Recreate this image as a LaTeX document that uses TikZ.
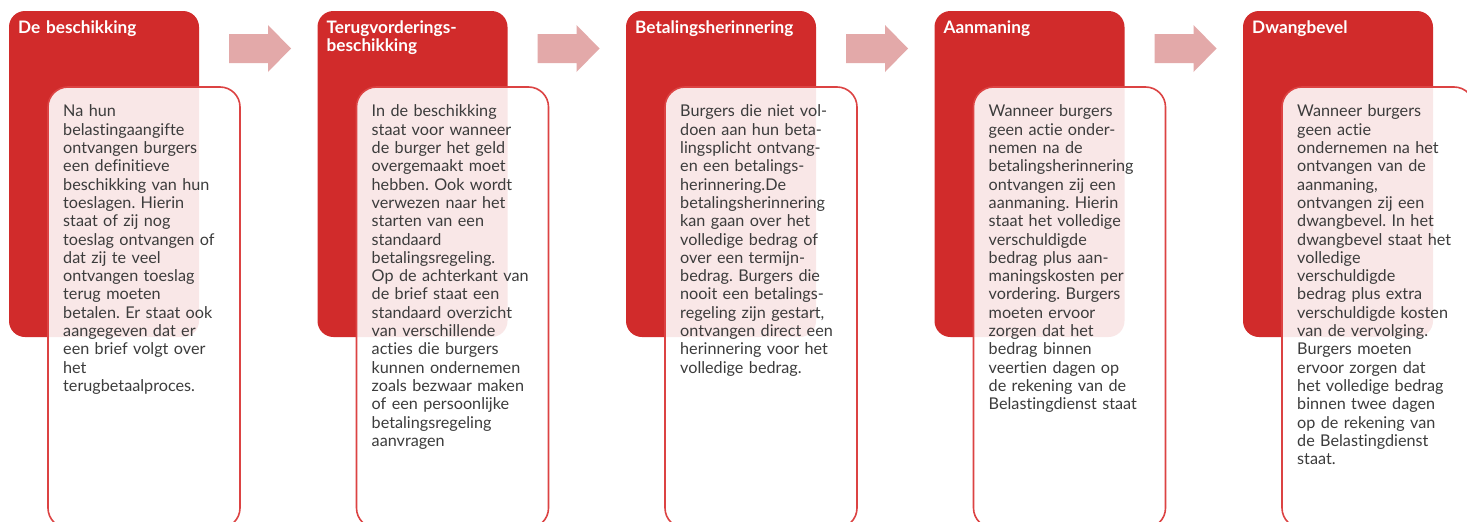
\documentclass[tikz,border=0pt]{standalone}
\usepackage{fontspec}
\setmainfont[Ligatures={NoCommon}]{Lato}
\frenchspacing
\definecolor{boxred}{HTML}{D12B2B}
\definecolor{edgered}{HTML}{DC4343}
\definecolor{arrowpink}{HTML}{E3A9A9}
\definecolor{bodytext}{HTML}{3C3C3C}
\tikzset{
  redbox/.style={fill=boxred, draw=none, rounded corners=16pt},
  whitebox/.style={draw=edgered, line width=1.6pt, fill=white, fill opacity=0.89, rounded corners=20pt},
  bodytxt/.style={anchor=north west, inner sep=0pt, align=left, text width=200pt, text=bodytext,
     font=\fontsize{16.2pt}{18.3pt}\selectfont\frenchspacing},
  titletxt/.style={anchor=north west, inner sep=0pt, align=left, text width=200pt, text=white,
     font=\fontsize{17.2pt}{18pt}\selectfont\bfseries},
  steparrow/.style={fill=arrowpink, draw=none}
}
\begin{document}
\begin{tikzpicture}[x=1pt,y=-1pt]
\useasboundingbox (0,0) rectangle (1467,522);
\fill[white] (0,0) rectangle (1467,522);
% arrows
\foreach \i in {0,1,2,3}{
  \begin{scope}[xshift=\i*308.5pt]
    \fill[steparrow] (229,34) -- (268,34) -- (268,25) -- (291,48.5) -- (268,72) -- (268,63) -- (229,63) -- cycle;
  \end{scope}
}
% column 1
\begin{scope}[xshift=0pt]
\path[redbox] (9,11) rectangle (199,337);
\path[whitebox] (48,87) rectangle (240,528);
\node[titletxt] (t1) at (18,21) {De beschikking};
\node[bodytxt] (b1) at (63,104.8) {Na hun\\belastingaangifte\\ontvangen burgers\\een definitieve\\beschikking van hun\\toeslagen. Hierin\\staat of zij nog\\toeslag ontvangen of\\dat zij te veel\\ontvangen toeslag\\terug moeten\\betalen. Er staat ook\\aangegeven dat er\\een brief volgt over\\het\\terugbetaalproces.};
\end{scope}
% column 2
\begin{scope}[xshift=308.5pt]
\path[redbox] (9,11) rectangle (199,337);
\path[whitebox] (48,87) rectangle (240,528);
\node[titletxt] (t2) at (18,21) {Terugvorderings-\\beschikking};
\node[bodytxt] (b2) at (63,104.8) {In de beschikking\\staat voor wanneer\\de burger het geld\\overgemaakt moet\\hebben. Ook wordt\\verwezen naar het\\starten van een\\standaard\\betalingsregeling.\\Op de achterkant van\\de brief staat een\\standaard overzicht\\van verschillende\\acties die burgers\\kunnen ondernemen\\zoals bezwaar maken\\of een persoonlijke\\betalingsregeling\\aanvragen};
\end{scope}
% column 3
\begin{scope}[xshift=617pt]
\path[redbox] (9,11) rectangle (199,337);
\path[whitebox] (48,87) rectangle (240,528);
\node[titletxt] (t3) at (18,21) {Betalingsherinnering};
\node[bodytxt] (b3) at (63,104.8) {Burgers die niet vol-\\doen aan hun beta-\\lingsplicht ontvang-\\en een betalings-\\herinnering.De\\betalingsherinnering\\kan gaan over het\\volledige bedrag of\\over een termijn-\\bedrag. Burgers die\\nooit een betalings-\\regeling zijn gestart,\\ontvangen direct een\\herinnering voor het\\volledige bedrag.};
\end{scope}
% column 4
\begin{scope}[xshift=925.5pt]
\path[redbox] (9,11) rectangle (199,337);
\path[whitebox] (48,87) rectangle (240,528);
\node[titletxt] (t4) at (18,21) {Aanmaning};
\node[bodytxt] (b4) at (63,104.8) {Wanneer burgers\\geen actie onder-\\nemen na de\\betalingsherinnering\\ontvangen zij een\\aanmaning. Hierin\\staat het volledige\\verschuldigde\\bedrag plus aan-\\maningskosten per\\vordering. Burgers\\moeten ervoor\\zorgen dat het\\bedrag binnen\\veertien dagen op\\de rekening van de\\Belastingdienst staat};
\end{scope}
% column 5
\begin{scope}[xshift=1234pt]
\path[redbox] (9,11) rectangle (199,337);
\path[whitebox] (48,87) rectangle (240,528);
\node[titletxt] (t5) at (18,21) {Dwangbevel};
\node[bodytxt] (b5) at (63,104.8) {Wanneer burgers\\geen actie\\ondernemen na het\\ontvangen van de\\aanmaning,\\ontvangen zij een\\dwangbevel. In het\\dwangbevel staat het\\volledige\\verschuldigde\\bedrag plus extra\\verschuldigde kosten\\van de vervolging.\\Burgers moeten\\ervoor zorgen dat\\het volledige bedrag\\binnen twee dagen\\op de rekening van\\de Belastingdienst\\staat.};
\end{scope}
\end{tikzpicture}
\end{document}
